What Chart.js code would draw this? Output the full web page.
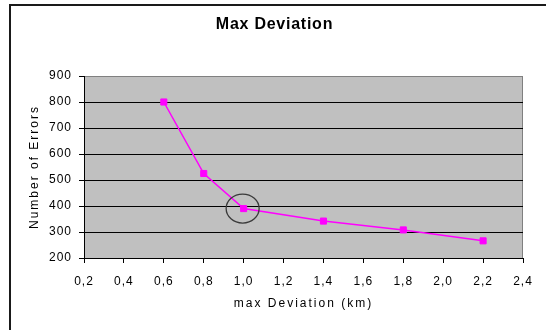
<!DOCTYPE html>
<html>
<head>
<meta charset="utf-8">
<script src="https://cdn.jsdelivr.net/npm/chart.js@4/dist/chart.umd.min.js"></script>
<style>
  html, body { margin: 0; padding: 0; background: #ffffff; }
  canvas { display: block; }
</style>
</head>
<body>
<canvas id="chart" width="546" height="330"></canvas>
<script>
// Max deviation (km) against number of errors
const deviationKm = [0.6, 0.8, 1.0, 1.4, 1.8, 2.2];
const errorCounts = [800, 525, 390, 342, 308, 266];

// Axis ticks
const xTickValues = [0.2, 0.4, 0.6, 0.8, 1.0, 1.2, 1.4, 1.6, 1.8, 2.0, 2.2, 2.4];
const xTickLabels = ['0,2', '0,4', '0,6', '0,8', '1,0', '1,2', '1,4', '1,6', '1,8', '2,0', '2,2', '2,4'];
const yTickValues = [200, 300, 400, 500, 600, 700, 800, 900];
const yTickLabels = ['200', '300', '400', '500', '600', '700', '800', '900'];

// Point singled out with a ring
const ringedPoint = [1.0, 390];

const FONT = "'Liberation Sans', Arial, sans-serif";

// Wider letter spacing for the axis labels and axis titles
const baseDrawTitle = Chart.Scale.prototype.drawTitle;
Chart.Scale.prototype.drawTitle = function () {
  const c = this.ctx;
  c.save();
  c.letterSpacing = '2px';
  baseDrawTitle.call(this);
  c.restore();
};
const baseDrawLabels = Chart.Scale.prototype.drawLabels;
Chart.Scale.prototype.drawLabels = function (area) {
  const c = this.ctx;
  c.save();
  c.letterSpacing = '1px';
  baseDrawLabels.call(this, area);
  c.restore();
};

const framePlugin = {
  id: 'frame',
  beforeDraw(chart) {
    const { ctx, chartArea: a } = chart;
    ctx.save();
    ctx.fillStyle = '#ffffff';
    ctx.fillRect(0, 0, chart.width, chart.height);
    // outer chart border
    ctx.strokeStyle = '#1a1a1a';
    ctx.lineWidth = 2;
    ctx.strokeRect(10, 5, 700, 500);
    // plot area
    ctx.fillStyle = '#c0c0c0';
    ctx.fillRect(a.left, a.top, a.right - a.left, a.bottom - a.top);
    ctx.strokeStyle = '#808080';
    ctx.lineWidth = 1;
    ctx.strokeRect(a.left + 0.5, a.top + 0.5, a.right - a.left - 1, a.bottom - a.top);
    ctx.restore();
    ctx.letterSpacing = '0.75px';
  }
};

const ringPlugin = {
  id: 'ring',
  afterDatasetsDraw(chart) {
    const { ctx, scales } = chart;
    const cx = scales.x.getPixelForValue(ringedPoint[0]) - 1;
    const cy = scales.y.getPixelForValue(ringedPoint[1]);
    ctx.save();
    ctx.strokeStyle = '#3a3a3a';
    ctx.lineWidth = 1.3;
    ctx.beginPath();
    ctx.ellipse(cx, cy, 16.5, 14.5, 0, 0, Math.PI * 2);
    ctx.stroke();
    ctx.restore();
  }
};

new Chart(document.getElementById('chart'), {
  type: 'line',
  data: {
    datasets: [{
      label: 'Number of Errors',
      data: deviationKm.map((x, i) => ({ x: x, y: errorCounts[i] })),
      borderColor: '#ff00ff',
      backgroundColor: '#ff00ff',
      borderWidth: 1.5,
      pointStyle: 'rect',
      pointRadius: 4.3,
      pointBorderWidth: 1,
      pointBackgroundColor: '#ff00ff',
      pointBorderColor: '#ff00ff',
      tension: 0,
      fill: false
    }]
  },
  options: {
    responsive: false,
    animation: false,
    devicePixelRatio: 1,
    layout: { padding: { left: 26, right: 23, top: 0, bottom: 0 } },
    plugins: {
      legend: { display: false },
      tooltip: { enabled: false },
      title: {
        display: true,
        text: 'Max Deviation',
        color: '#000000',
        font: { family: FONT, size: 16, weight: 'bold', lineHeight: 1.2 },
        padding: { top: 14.5, bottom: 42.3 }
      }
    },
    scales: {
      x: {
        type: 'linear',
        min: 0.2,
        max: 2.4,
        afterBuildTicks: s => { s.ticks = xTickValues.map(v => ({ value: v })); },
        afterFit: s => { s.height = 72; },
        ticks: {
          color: '#000000',
          font: { family: FONT, size: 12 },
          padding: 11,
          maxRotation: 0,
          autoSkip: false,
          callback: (v, i) => xTickLabels[i]
        },
        grid: {
          drawOnChartArea: false,
          drawTicks: true,
          tickLength: 5,
          tickColor: '#000000',
          tickWidth: 1
        },
        border: { display: true, color: '#000000', width: 1 },
        title: {
          display: true,
          text: 'max Deviation (km)',
          color: '#000000',
          font: { family: FONT, size: 12, lineHeight: 1.2 },
          padding: { top: 18.8, bottom: 18.8 }
        }
      },
      y: {
        type: 'linear',
        min: 200,
        max: 900,
        afterBuildTicks: s => { s.ticks = yTickValues.map(v => ({ value: v })); },
        afterFit: s => { s.width = 58; },
        ticks: {
          color: '#000000',
          font: { family: FONT, size: 12 },
          padding: 7,
          autoSkip: false,
          callback: (v, i) => yTickLabels[i]
        },
        grid: {
          color: ctx => (ctx.tick && ctx.tick.value === 900 ? 'rgba(0,0,0,0)' : '#000000'),
          lineWidth: 1,
          drawTicks: true,
          tickLength: 5,
          tickColor: '#000000',
          tickWidth: 1
        },
        border: { display: true, color: '#000000', width: 1 },
        title: {
          display: true,
          text: 'Number of Errors',
          color: '#000000',
          font: { family: FONT, size: 12, lineHeight: 1.2 },
          padding: { top: 1, bottom: 0 }
        }
      }
    }
  },
  plugins: [framePlugin, ringPlugin]
});
</script>
</body>
</html>
